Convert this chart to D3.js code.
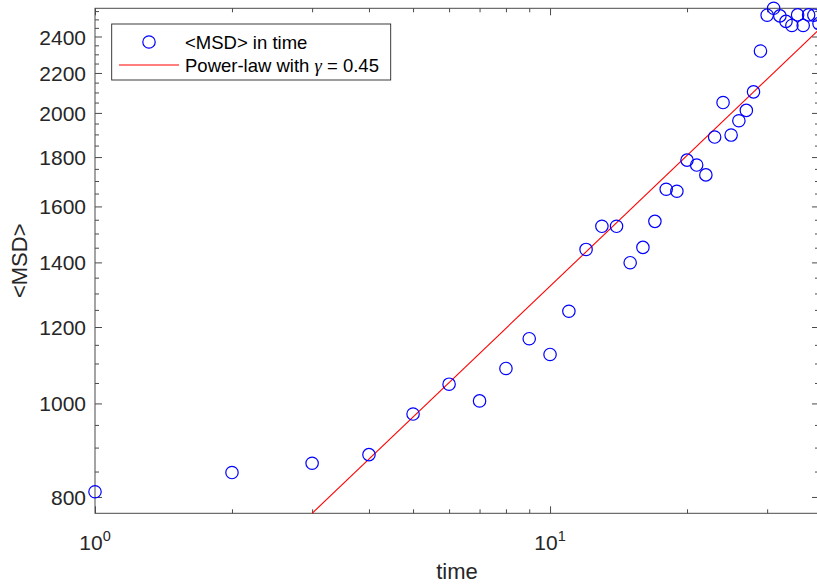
<!DOCTYPE html>
<html>
<head>
<meta charset="utf-8">
<script src="https://cdn.jsdelivr.net/npm/d3@7"></script>
<style>
  html, body { margin: 0; padding: 0; background: #fff; }
  svg { display: block; font-family: "Liberation Sans", Arial, sans-serif; }
</style>
</head>
<body>
<svg id="chart" width="817" height="586"></svg>
<script>
// ---- data ----
const times = [1, 2, 3, 4, 5, 6, 7, 8, 9, 10, 11, 12, 13, 14, 15, 16, 17, 18, 19, 20,
               21, 22, 23, 24, 25, 26, 27, 28, 29, 30, 31, 32, 33, 34, 35, 36, 37, 38, 39];
const msd = [810, 848, 867, 885, 975, 1047, 1006, 1087, 1167, 1124, 1246, 1444, 1526, 1526, 1399, 1451,
             1544, 1667, 1659, 1787, 1766, 1725, 1888, 2050, 1897, 1963, 2012, 2103, 2318, 2525, 2567,
             2521, 2488, 2464, 2527, 2464, 2527, 2525, 2475];
const gamma = 0.45;
const fitTimes = [3, 39];
const fitValues = [769.4, 2440];
const xMajorTicks = [1, 10];
const xMajorLabels = [["10", "0"], ["10", "1"]];
const xMinorTicks = [2, 3, 4, 5, 6, 7, 8, 9, 20, 30];
const yMajorTicks = [800, 1000, 1200, 1400, 1600, 1800, 2000, 2200, 2400];
const yMinorTicks = [850, 900, 950, 1050, 1100, 1150, 1250, 1300, 1350, 1450, 1500, 1550,
                     1650, 1700, 1750, 1850, 1900, 1950, 2050, 2100, 2150, 2250, 2300, 2350,
                     2450, 2500, 2550];
const legendLabels = ["<MSD> in time", "Power-law with ", " = 0.45"];

// ---- layout ----
const mLeft = 95, mRight = 819, mTop = 8.3, mBottom = 513.3;
const svg = d3.select("#chart");
const textColor = "#262626";
const axisColor = "#4a4a4a";

const x = d3.scaleLog().domain([1, d3.max(times)]).range([mLeft, mRight]);
const y = d3.scaleLog().domain([fitValues[0], d3.max(msd)]).range([mBottom, mTop]);

function styleAxis(g) {
  g.select(".domain").remove();
  g.selectAll(".tick line").attr("stroke", axisColor).attr("stroke-width", 1);
  g.selectAll(".tick text").attr("fill", textColor);
}
svg.append("g").attr("transform", `translate(0,${mBottom})`)
  .call(d3.axisBottom(x).tickValues(xMajorTicks).tickSize(-7).tickFormat("")).call(styleAxis);
svg.append("g").attr("transform", `translate(0,${mBottom})`)
  .call(d3.axisBottom(x).tickValues(xMinorTicks).tickSize(-4).tickFormat("")).call(styleAxis);
svg.append("g").attr("transform", `translate(0,${mTop})`)
  .call(d3.axisTop(x).tickValues(xMajorTicks).tickSize(-7).tickFormat("")).call(styleAxis);
svg.append("g").attr("transform", `translate(0,${mTop})`)
  .call(d3.axisTop(x).tickValues(xMinorTicks).tickSize(-4).tickFormat("")).call(styleAxis);

const yAx = svg.append("g").attr("transform", `translate(${mLeft},0)`)
  .call(d3.axisLeft(y).tickValues(yMajorTicks).tickSize(-7).tickPadding(9).tickFormat(d3.format("d")))
  .call(styleAxis);
yAx.selectAll(".tick text").attr("font-size", "21px").attr("font-family", "Liberation Sans, Arial, sans-serif")
  .attr("dy", "0.36em");
svg.append("g").attr("transform", `translate(${mLeft},0)`)
  .call(d3.axisLeft(y).tickValues(yMinorTicks).tickSize(-4).tickFormat("")).call(styleAxis);
svg.append("g").attr("transform", `translate(${mRight},0)`)
  .call(d3.axisRight(y).tickValues(yMajorTicks).tickSize(-7).tickFormat("")).call(styleAxis);
svg.append("g").attr("transform", `translate(${mRight},0)`)
  .call(d3.axisRight(y).tickValues(yMinorTicks).tickSize(-4).tickFormat("")).call(styleAxis);

// frame
svg.append("rect").attr("x", mLeft).attr("y", mTop).attr("width", mRight - mLeft).attr("height", mBottom - mTop)
  .attr("fill", "none").attr("stroke", axisColor).attr("stroke-width", 1);

// x tick labels with superscripts
xMajorTicks.forEach((t, i) => {
  const txt = svg.append("text").attr("x", x(t)).attr("y", 550).attr("fill", textColor)
    .attr("font-size", "21px").attr("text-anchor", "middle");
  txt.append("tspan").text(xMajorLabels[i][0]);
  txt.append("tspan").attr("dy", "-9").attr("font-size", "14.5px").text(xMajorLabels[i][1]);
});

// axis labels
svg.append("text").attr("x", (mLeft + mRight) / 2).attr("y", 579).attr("text-anchor", "middle")
  .attr("fill", textColor).attr("font-size", "22px").text("time");
svg.append("text").attr("transform", `translate(27,${(mTop + mBottom) / 2}) rotate(-90)`)
  .attr("text-anchor", "middle").attr("fill", textColor).attr("font-size", "22px").text("<MSD>");

// fit line
const line = d3.line().x(d => x(d[0])).y(d => y(d[1]));
svg.append("path").datum(fitTimes.map((t, i) => [t, fitValues[i]]))
  .attr("d", line).attr("fill", "none").attr("stroke", "#ff0000").attr("stroke-width", 1.1);

// data points
svg.append("g").selectAll("circle").data(times.map((t, i) => [t, msd[i]])).join("circle")
  .attr("cx", d => x(d[0])).attr("cy", d => y(d[1])).attr("r", 6.2)
  .attr("fill", "none").attr("stroke", "#0000ff").attr("stroke-width", 1.2);

// legend
const lg = svg.append("g");
lg.append("rect").attr("x", 111.7).attr("y", 24).attr("width", 279).attr("height", 56)
  .attr("fill", "#fff").attr("stroke", textColor).attr("stroke-width", 0.9);
lg.append("circle").attr("cx", 149).attr("cy", 42).attr("r", 6.2)
  .attr("fill", "none").attr("stroke", "#0000ff").attr("stroke-width", 1.2);
lg.append("text").attr("x", 185).attr("y", 48.5).attr("fill", "#000").attr("font-size", "18.5px").text(legendLabels[0]);
lg.append("line").attr("x1", 119).attr("x2", 179).attr("y1", 65).attr("y2", 65)
  .attr("stroke", "#ff0000").attr("stroke-width", 1.1);
const t2 = lg.append("text").attr("x", 185).attr("y", 71.5).attr("fill", "#000").attr("font-size", "18.5px");
t2.append("tspan").text(legendLabels[1]);
t2.append("tspan").attr("font-family", "Liberation Serif, serif").attr("font-style", "italic").text("γ");
t2.append("tspan").text(legendLabels[2]);
</script>
</body>
</html>
